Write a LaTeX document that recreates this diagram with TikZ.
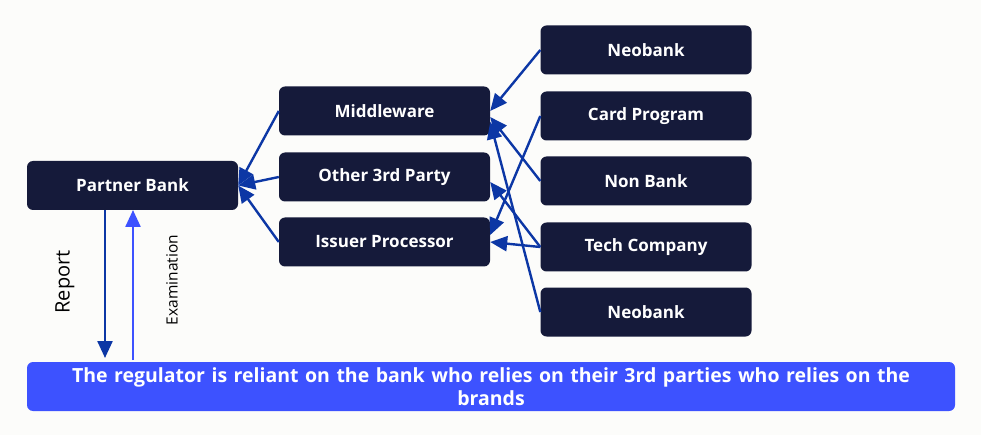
\documentclass[tikz,border=0pt]{standalone}
\usepackage{fontspec}
\setmainfont{Open Sans}
\usetikzlibrary{arrows.meta}
\definecolor{paper}{RGB}{252, 252, 250}
\definecolor{midnight}{RGB}{21, 26, 58}
\definecolor{cobalt}{RGB}{12, 55, 165}
\definecolor{azure}{RGB}{61, 82, 255}

\begin{document}
\begin{tikzpicture}[x=1pt, y=-1pt,
        entity/.style={fill=midnight, rounded corners=6pt, minimum width=211pt, minimum height=49pt,
                       text=white, font=\fontsize{17}{20}\selectfont\bfseries},
        link/.style={draw=cobalt, line width=2.4pt, -{Triangle[length=17pt, width=15pt]}}]
            \fill[paper] (0,0) rectangle (981,435);
            \useasboundingbox (0,0) rectangle (981,435);
            % partner bank and its 3rd parties
            \node[entity] (bank)   at (132.5, 185.5) {Partner Bank};
            \node[entity] (mware)  at (384.5, 111.0) {Middleware};
            \node[entity] (other)  at (384.5, 177.0) {Other 3rd Party};
            \node[entity] (issuer) at (384.5, 242.0) {Issuer Processor};
            % brands
            \node[entity] (neotop) at (646.0,  50.0) {Neobank};
            \node[entity] (card)   at (646.0, 116.0) {Card Program};
            \node[entity] (nonbk)  at (646.0, 181.0) {Non Bank};
            \node[entity] (tech)   at (646.0, 247.0) {Tech Company};
            \node[entity] (neobot) at (646.0, 312.0) {Neobank};
            % regulator
            \node[fill=azure, rounded corners=6pt, minimum width=928pt, minimum height=49pt, text width=910pt,
                  align=center, text=white, font=\fontsize{19.5}{23}\selectfont\bfseries] (reg) at (491, 386.5)
                 {The regulator is reliant on the bank who relies on their 3rd parties who relies on the\\brands};
            \draw[link] (mware.west)  -- (bank.east);
            \draw[link] (other.west)  -- (bank.east);
            \draw[link] (issuer.west) -- (bank.east);
            \draw[link] (neotop.west) -- (mware.east);
            \draw[link] (nonbk.west)  -- ([yshift=-6pt]mware.east);
            \draw[link] (neobot.west) -- ([yshift=-11pt]mware.east);
            \draw[link] (tech.west)   -- ([yshift=-5pt]other.east);
            \draw[link] (tech.west)   -- (issuer.east);
            \draw[link] (card.west)   -- ([yshift=7pt]issuer.east);
            % report and examination
            \coordinate (repfrom) at (105, 210);
            \coordinate (repto)   at (105, 358);
            \coordinate (exfrom)  at (133, 360);
            \coordinate (exto)    at (133, 210);
            \draw[link] (repfrom) -- (repto);
            \draw[link, draw=azure] (exfrom) -- (exto);
            \node[rotate=90, font=\fontsize{20}{24}\selectfont] (report) at (65, 282) {Report};
            \node[rotate=90, font=\fontsize{15.5}{18}\selectfont] (exam)   at (172, 280) {Examination};
        \end{tikzpicture}
\end{document}
